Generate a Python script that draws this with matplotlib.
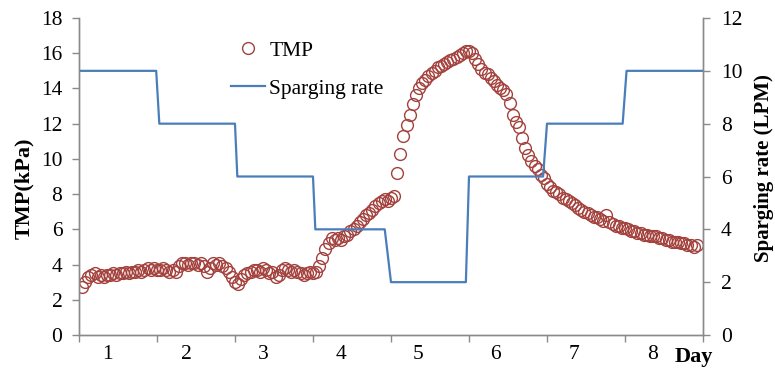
import numpy as np
import matplotlib.pyplot as plt

plt.rcParams['font.family'] = ['Liberation Serif', 'DejaVu Serif']

# TMP readings (kPa), one every 0.04 day, grouped by day
sample_interval = 0.04
tmp_day1 = [2.7, 3.0, 3.3, 3.4, 3.5, 3.3, 3.4, 3.3, 3.4, 3.4, 3.5, 3.4, 3.5,
            3.5, 3.6, 3.5, 3.6, 3.6, 3.7, 3.6, 3.7, 3.8, 3.7, 3.8, 3.7]
tmp_day2 = [3.7, 3.8, 3.7, 3.6, 3.7, 3.6, 3.9, 4.1, 4.1, 4.0, 4.1, 4.1, 4.0,
            4.1, 3.9, 3.6, 3.8, 4.1, 4.0, 4.1, 3.9, 3.8, 3.6, 3.3, 3.0]
tmp_day3 = [2.9, 3.2, 3.4, 3.5, 3.6, 3.7, 3.7, 3.6, 3.8, 3.7, 3.5, 3.6, 3.3,
            3.4, 3.7, 3.8, 3.7, 3.6, 3.7, 3.6, 3.5, 3.4, 3.5, 3.6, 3.5]
tmp_day4 = [3.6, 3.9, 4.4, 4.9, 5.2, 5.5, 5.4, 5.5, 5.4, 5.6, 5.7, 5.9, 6.0,
            6.2, 6.4, 6.6, 6.8, 6.9, 7.1, 7.3, 7.5, 7.6, 7.7, 7.6, 7.8]
tmp_day5 = [7.9, 9.2, 10.3, 11.3, 11.9, 12.5, 13.1, 13.6, 14.0, 14.3, 14.5, 14.7, 14.9,
            15.0, 15.2, 15.3, 15.4, 15.5, 15.6, 15.7, 15.8, 15.9, 16.0, 16.1, 16.1]
tmp_day6 = [16.0, 15.7, 15.4, 15.1, 14.9, 14.8, 14.6, 14.4, 14.2, 14.0, 13.9, 13.7, 13.2,
            12.5, 12.1, 11.8, 11.2, 10.6, 10.2, 9.9, 9.6, 9.4, 9.1, 8.9, 8.6]
tmp_day7 = [8.4, 8.2, 8.1, 8.0, 7.8, 7.7, 7.6, 7.5, 7.4, 7.2, 7.1, 7.0, 6.9,
            6.8, 6.7, 6.7, 6.6, 6.5, 6.8, 6.4, 6.3, 6.2, 6.2, 6.1, 6.1]
tmp_day8 = [6.0, 5.9, 5.9, 5.8, 5.8, 5.7, 5.7, 5.6, 5.6, 5.6, 5.5, 5.5, 5.4,
            5.4, 5.3, 5.3, 5.3, 5.2, 5.2, 5.1, 5.1, 5.0, 5.1]
tmp = tmp_day1 + tmp_day2 + tmp_day3 + tmp_day4 + tmp_day5 + tmp_day6 + tmp_day7 + tmp_day8
tmp_time = np.arange(1, len(tmp) + 1) * sample_interval

# sparging rate (LPM) steps
rate_time = [0, 0.99, 1.03, 2.0, 2.03, 3.0, 3.03, 3.92, 4.0, 4.96, 5.0, 5.95, 6.0, 6.97, 7.02, 8.0]
rate_lpm = [10, 10, 8, 8, 6, 6, 4, 4, 2, 2, 6, 6, 8, 8, 10, 10]

day_labels = ['1', '2', '3', '4', '5', '6', '7', '8']
day_label_pos = [0.36, 1.38, 2.36, 3.36, 4.35, 5.34, 6.34, 7.35]

grey = '#8a8a8a'
fig = plt.figure(figsize=(7.75, 3.73), dpi=100)
ax = fig.add_axes([0.1019, 0.1019, 0.8052, 0.8498])
ax2 = ax.twinx()

h1, = ax.plot(tmp_time, tmp, 'o', ms=8.5, mfc='none', mec='#a3413d', mew=1.0, label='TMP')
h2, = ax2.plot(rate_time, rate_lpm, '-', color='#4a7ebb', lw=1.6, label='Sparging rate')

ax.set_xlim(0, 8)
ax.set_ylim(0, 18)
ax2.set_ylim(0, 12)
ax.set_yticks(np.arange(0, 19, 2))
ax2.set_yticks(np.arange(0, 13, 2))
ax.set_xticks(np.arange(0, 9))
ax.set_xticklabels([])
ax.set_xticks(day_label_pos, minor=True)
ax.set_xticklabels(day_labels, minor=True)

for a in (ax, ax2):
    for s in a.spines.values():
        s.set_color(grey)
        s.set_linewidth(1.0)
    a.spines['top'].set_visible(False)
ax.tick_params(axis='both', which='major', direction='out', length=5, width=1, color=grey,
               labelsize=15.5, pad=7)
ax.tick_params(axis='x', which='minor', length=0, labelsize=15.5, pad=7)
ax2.tick_params(axis='y', direction='out', length=5, width=1, color=grey, labelsize=15.5, pad=8)

ax.set_ylabel('TMP(kPa)', fontsize=16, fontweight='bold', va='center')
ax.yaxis.set_label_coords(-0.088, 0.464)
ax2.set_ylabel('Sparging rate (LPM)', fontsize=15, fontweight='bold', va='center')
ax2.yaxis.set_label_coords(1.097, 0.527)
ax.text(0.9856, -0.069, 'Day', transform=ax.transAxes, fontsize=16, fontweight='bold',
        ha='center', va='center')

ax2.legend(handles=[h1, h2], loc='upper left', bbox_to_anchor=(0.212, 0.99), frameon=False,
           fontsize=15.5, handlelength=1.6, handletextpad=0.2, labelspacing=0.85)

fig.savefig('out.png', dpi=100)
